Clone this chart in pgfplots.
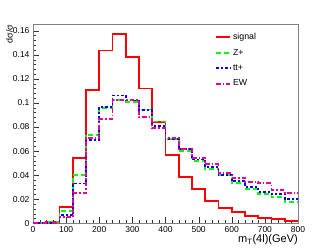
\documentclass[border=0pt]{standalone}
\usepackage{pgfplots}
\pgfplotsset{compat=1.18}
\usepackage{fontspec}
\setmainfont{Liberation Sans}
\tikzset{
  sigstyle/.style={color=red, line width=1.8pt, solid},
  zstyle/.style={color=green, line width=1.8pt, dash pattern=on 5pt off 3pt},
  ttstyle/.style={color=blue, line width=1.8pt, dash pattern=on 2.5pt off 2pt},
  ewstyle/.style={color=magenta, line width=1.8pt, dash pattern=on 4.5pt off 2pt on 1.5pt off 2pt},
}
\begin{document}
\begin{tikzpicture}
\useasboundingbox (-33pt,-25.7pt) rectangle (299pt,223.3pt);
\begin{axis}[
  scale only axis, width=265pt, height=198.6pt,
  xmin=0, xmax=800, ymin=0, ymax=0.165,
  xtick={0,100,...,800}, ytick={0,0.02,...,0.16},
  minor x tick num=4, minor y tick num=4,
  tick pos=left, tick align=inside,
  major tick length=6pt, minor tick length=3pt,
  axis line style={gray}, tick style={black!80},
  scaled y ticks=false,
  /pgf/number format/assume math mode=true,
  yticklabel style={/pgf/number format/fixed, /pgf/number format/precision=2, font=\fontsize{8.5}{10}\selectfont},
  xticklabel style={font=\fontsize{8.5}{10}\selectfont},
  legend style={draw=none, fill=none, at={(rel axis cs:0.687,0.968)}, anchor=north west, font=\fontsize{8.8}{10}\selectfont, row sep=4pt, inner sep=0pt},
  legend cell align=left,
]
\addlegendimage{sigstyle, legend image code/.code={\draw[sigstyle] (0pt,0pt) -- (14pt,0pt);}}
\addlegendentry{signal}
\addlegendimage{zstyle, legend image code/.code={\draw[zstyle] (0pt,0pt) -- (14pt,0pt);}}
\addlegendentry{Z+}
\addlegendimage{ttstyle, legend image code/.code={\draw[ttstyle] (0pt,0pt) -- (14pt,0pt);}}
\addlegendentry{tt+}
\addlegendimage{ewstyle, legend image code/.code={\draw[ewstyle] (0pt,0pt) -- (14pt,0pt);}}
\addlegendentry{EW}
\addplot[sigstyle, const plot mark left, forget plot] coordinates {(0,0) (40,0.0008) (80,0.0133) (120,0.054) (160,0.1107) (200,0.1435) (240,0.157) (280,0.138) (320,0.112) (360,0.084) (400,0.057) (440,0.0387) (480,0.0282) (520,0.0188) (560,0.013) (600,0.0091) (640,0.006) (680,0.0044) (720,0.0033) (760,0.002) (800,0.002)};
\addplot[zstyle, const plot mark left, forget plot] coordinates {(0,0) (40,0.001) (80,0.0102) (120,0.040) (160,0.0736) (200,0.0955) (240,0.1022) (280,0.101) (320,0.0945) (360,0.0845) (400,0.070) (440,0.060) (480,0.052) (520,0.0448) (560,0.040) (600,0.0337) (640,0.0285) (680,0.0243) (720,0.0216) (760,0.018) (800,0.018)};
\addplot[ttstyle, const plot mark left, forget plot] coordinates {(0,0) (40,0.0005) (80,0.0066) (120,0.033) (160,0.069) (200,0.0968) (240,0.1062) (280,0.102) (320,0.094) (360,0.081) (400,0.070) (440,0.0615) (480,0.053) (520,0.0465) (560,0.040) (600,0.035) (640,0.0304) (680,0.0262) (720,0.0243) (760,0.020) (800,0.020)};
\addplot[ewstyle, const plot mark left, forget plot] coordinates {(0,0) (40,0.0005) (80,0.005) (120,0.025) (160,0.0706) (200,0.0866) (240,0.1024) (280,0.1022) (320,0.088) (360,0.079) (400,0.071) (440,0.062) (480,0.0545) (520,0.049) (560,0.0415) (600,0.0374) (640,0.0345) (680,0.0332) (720,0.0277) (760,0.0254) (800,0.0254)};
\end{axis}
\node[rotate=90, anchor=north east, font=\fontsize{9}{10}\selectfont, inner sep=0pt] at (-27pt,199pt) {dσ/σ};
\node[anchor=north east, font=\fontsize{11}{12}\selectfont, inner sep=0pt] at (265pt,-11pt) {m$_{\mathrm{T}}$(4l)(GeV)};
\end{tikzpicture}
\end{document}
